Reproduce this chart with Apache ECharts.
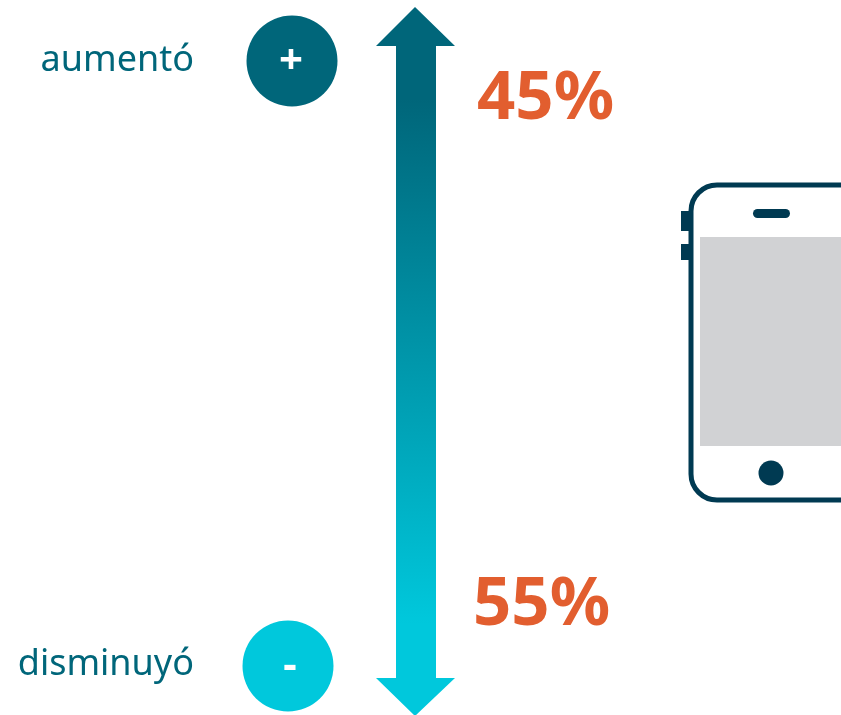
<!DOCTYPE html>
<html>
<head>
<meta charset="utf-8">
<style>html,body{margin:0;padding:0;background:#fff}#chart{width:841px;height:715px}</style>
<script src="https://cdn.jsdelivr.net/npm/echarts@6/dist/echarts.min.js"></script>
</head>
<body>
<div id="chart"></div>
<script>
// Direction of change and the share of respondents for each
const directions = ['aumentó', 'disminuyó'];
const signs = ['+', '-'];
const shares = [45, 55];

const UP = '#00667A';
const DOWN = '#00C8DC';
const INK = '#003A52';
const ORANGE = '#E25E2F';
const SANS = '"Noto Sans", sans-serif';

const chart = echarts.init(document.getElementById('chart'), null, { renderer: 'canvas' });

// Double-headed arrow running from "aumentó" down to "disminuyó"
const arrow = {
  type: 'polygon',
  shape: {
    points: [[415, 7], [455, 46], [436, 46], [436, 678], [455, 678], [415, 716],
             [376, 678], [396, 678], [396, 46], [376, 46]]
  },
  style: {
    fill: new echarts.graphic.LinearGradient(0, 0, 0, 1, [
      { offset: 0, color: UP },
      { offset: 0.13, color: UP },
      { offset: 0.87, color: DOWN },
      { offset: 1, color: DOWN }
    ])
  }
};

const badge = (cx, cy, color, sign, signX) => [
  { type: 'circle', shape: { cx, cy, r: 45.5 }, style: { fill: color } },
  { type: 'text', x: signX, y: cy + 1, style: {
      text: sign, fill: '#fff', font: `bold 42px ${SANS}`, align: 'center', verticalAlign: 'middle'
  } }
];

const sideLabel = (y, text) => ({
  type: 'text', x: 194, y, style: {
    text, fill: UP, font: `36px ${SANS}`, align: 'right', verticalAlign: 'middle'
  }
});

const share = (x, y, value) => ({
  type: 'text', x, y, style: {
    text: value + '%', fill: ORANGE, font: `bold 67px ${SANS}`, align: 'left', verticalAlign: 'middle'
  }
});

// Handset outline, screen and controls; the right edge runs off the canvas
const phone = [
  { type: 'rect', shape: { x: 681, y: 211, width: 10, height: 20 }, style: { fill: INK } },
  { type: 'rect', shape: { x: 681, y: 244, width: 10, height: 16 }, style: { fill: INK } },
  { type: 'rect', shape: { x: 691, y: 185, width: 180, height: 315, r: 26 },
    style: { fill: '#fff', stroke: INK, lineWidth: 5 } },
  { type: 'rect', shape: { x: 700, y: 237, width: 141, height: 209 }, style: { fill: '#D1D2D4' } },
  { type: 'rect', shape: { x: 753, y: 209, width: 37, height: 9, r: 4.5 }, style: { fill: INK } },
  { type: 'circle', shape: { cx: 771, cy: 473, r: 12.5 }, style: { fill: INK } }
];

chart.setOption({
  animation: false,
  backgroundColor: '#fff',
  graphic: {
    elements: [
      arrow,
      ...badge(292, 61, UP, signs[0], 291),
      ...badge(288, 666, DOWN, signs[1], 290),
      sideLabel(61, directions[0]),
      sideLabel(665, directions[1]),
      share(477, 100, shares[0]),
      share(473, 606, shares[1]),
      ...phone
    ]
  }
});
</script>
</body>
</html>
